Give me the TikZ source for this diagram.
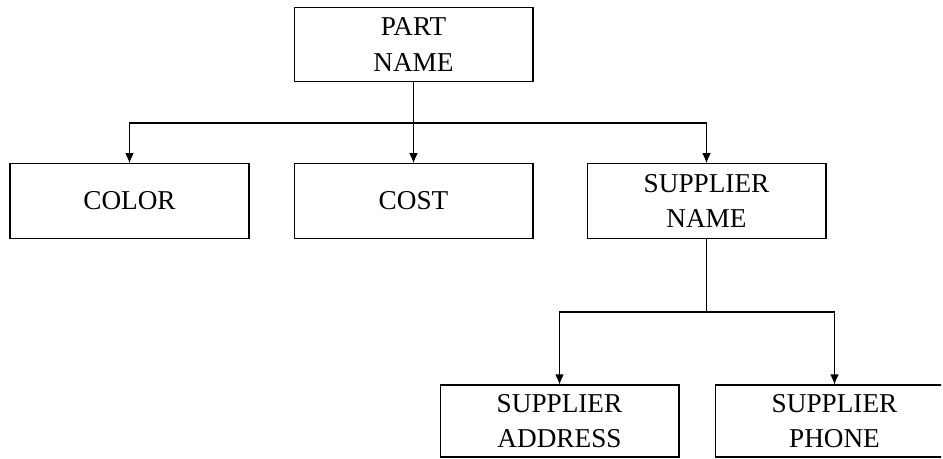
\documentclass[tikz,border=0pt]{standalone}
\usepackage{fontspec}
\setmainfont{Liberation Serif}
\usetikzlibrary{arrows.meta}

\begin{document}
\begin{tikzpicture}[x=0.02cm, y=-0.02cm,
  field/.style={draw, line width=0.6pt, minimum width=4.78cm, minimum height=1.49cm,
    inner sep=0pt, align=center, font=\fontsize{15.5}{20}\selectfont},
  line/.style={>={Latex[length=0.2cm, width=0.17cm]}, line width=0.6pt}]
\useasboundingbox (0, 0) rectangle (943, 459);
% the phone box runs past the right margin
\clip (-5, -5) rectangle (941, 464);

\node[field] (part) at (413.5, 44.5) {PART\\NAME};
\node[field] (color) at (129.5, 201) {COLOR};
\node[field] (cost) at (413.5, 201) {COST};
\node[field] (supname) at (706.5, 201) {SUPPLIER\\NAME};
\node[field, minimum height=1.44cm] (supaddr) at (559.5, 421) {SUPPLIER\\ADDRESS};
\node[field, minimum height=1.44cm] (supphone) at (834.5, 421) {SUPPLIER\\PHONE};

\coordinate (bar1) at (413.5, 123);
\coordinate (bar2) at (706.5, 312);

\draw[->, line] (part.south) -- (bar1) -| (color.north);
\draw[->, line] (bar1) -- (cost.north);
\draw[->, line] (bar1) -| (supname.north);

\draw[->, line] (supname.south) -- (bar2) -| (supaddr.north);
\draw[->, line] (bar2) -| (supphone.north);
\end{tikzpicture}
\end{document}
